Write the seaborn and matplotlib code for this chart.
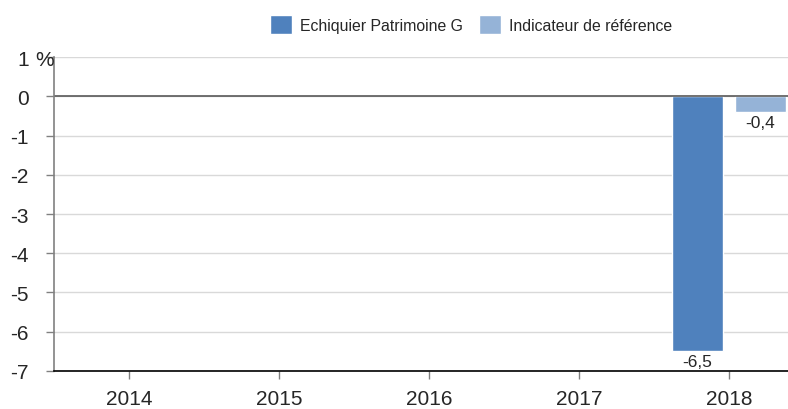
import numpy as np
import pandas as pd
import seaborn as sns
import matplotlib.pyplot as plt
import matplotlib.transforms as mtransforms

# Données
annees = ['2014', '2015', '2016', '2017', '2018']
fonds = [np.nan, np.nan, np.nan, np.nan, -6.5]
indice = [np.nan, np.nan, np.nan, np.nan, -0.4]
series = ['Echiquier Patrimoine G', 'Indicateur de référence']
couleurs = ['#4f81bd', '#95b3d7']

df = pd.DataFrame({
    'annee': annees * 2,
    'perf': fonds + indice,
    'serie': [series[0]] * len(annees) + [series[1]] * len(annees),
}).dropna()

sns.set_style('white')
plt.rcParams['font.family'] = ['Liberation Sans', 'DejaVu Sans']

fig = plt.figure(figsize=(7.88, 4.10), dpi=100)
ax = fig.add_axes([0.0685, 0.0927, 0.9315, 0.7658])

sns.barplot(data=df, x='annee', y='perf', hue='serie', order=annees,
            hue_order=series, palette=couleurs, width=0.84, gap=0.19,
            saturation=1, ax=ax, legend=True)

# Étiquettes de valeurs sous les barres
for cont in ax.containers:
    labels = ['' if np.isnan(v) else f'{v:.1f}'.replace('.', ',') for v in cont.datavalues]
    ax.bar_label(cont, labels=labels, padding=2, fontsize=12.5)

ax.set_ylim(-7, 1)
ax.set_xlim(-0.5, 4.395)
ax.set_yticks(range(-7, 2))
ax.set_yticklabels([str(v) for v in range(-7, 2)])
ax.set_xlabel('')
ax.set_ylabel('')

# unité "%" accolée au tick du haut
trans = mtransforms.blended_transform_factory(fig.transFigure, ax.transData)
ax.text(0.045, 1, '%', transform=trans, ha='left', va='center_baseline', fontsize=15)

ax.grid(axis='y', color='#d9d9d9', linewidth=1)
ax.set_axisbelow(True)
ax.axhline(0, color='#595959', linewidth=1.2, zorder=1)

for s in ['top', 'right']:
    ax.spines[s].set_visible(False)
ax.spines['left'].set_color('#808080')
ax.spines['left'].set_linewidth(1.2)
ax.spines['bottom'].set_color('black')
ax.spines['bottom'].set_linewidth(1.2)

ax.tick_params(axis='y', length=6, width=1, color='#808080', labelsize=15, pad=12)
ax.tick_params(axis='x', length=6, width=1, color='#808080', labelsize=15, pad=7)
ax.tick_params(left=True, bottom=True)

handles, labels = ax.get_legend_handles_labels()
ax.get_legend().remove()
fig.legend(handles, labels, loc='center', bbox_to_anchor=(0.598, 0.938), ncol=2,
           frameon=False, fontsize=11.4, handlelength=1.4, handleheight=1.4,
           handletextpad=0.5, columnspacing=1.0)

fig.savefig('out.png', dpi=100)
